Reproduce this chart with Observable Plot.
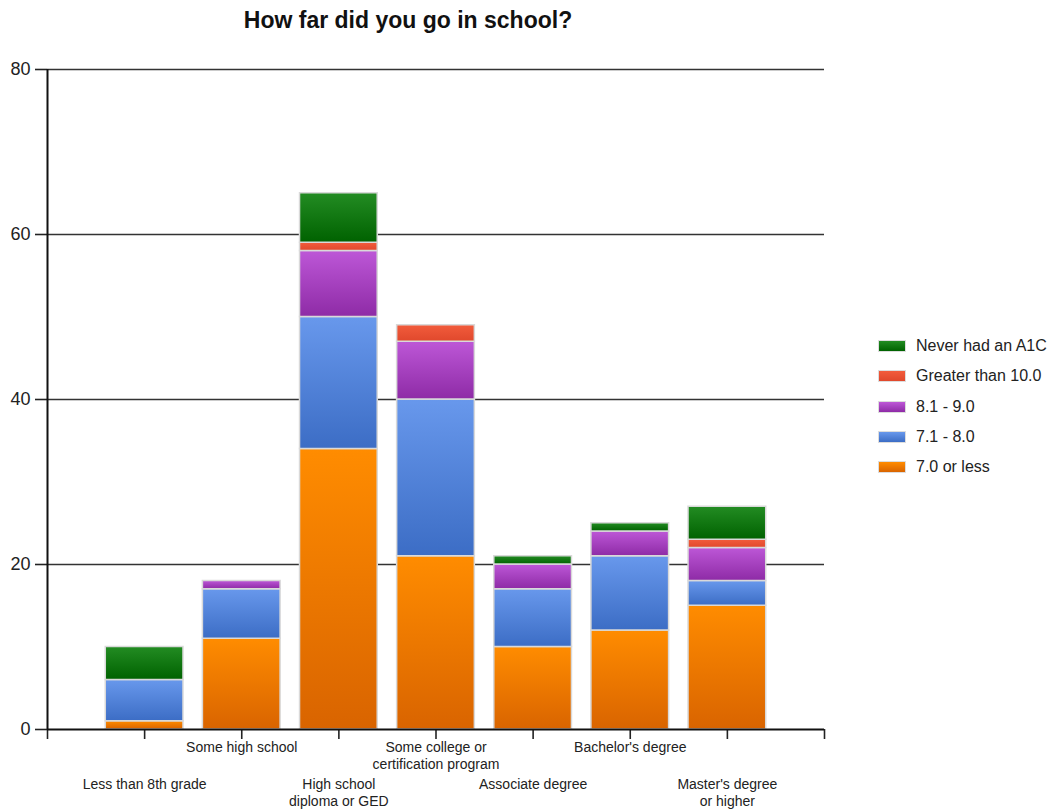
<!DOCTYPE html>
<html>
<head>
<meta charset="utf-8">
<script src="https://cdn.jsdelivr.net/npm/d3@7"></script>
<script src="https://cdn.jsdelivr.net/npm/@observablehq/plot@0.6"></script>
<style>
  html, body { margin: 0; padding: 0; background: #fff; }
  body { font-family: "Liberation Sans", Arial, sans-serif; }
  #wrap { position: relative; width: 1047px; height: 810px; }
  #title { position: absolute; left: 0; top: 7px; width: 816px; text-align: center;
           font-weight: bold; font-size: 23px; color: #111; }
  #chart { position: absolute; left: 0; top: 0; }
  #legend { position: absolute; left: 878px; top: 331px; font-size: 16px; color: #222; }
  .item { display: flex; align-items: center; height: 30.25px; }
  .sw { width: 28px; height: 12px; margin-right: 10px; box-sizing: border-box; border: 1px solid #ddd; }
</style>
</head>
<body>
<div id="wrap">
  <div id="chart"></div>
  <div id="title">How far did you go in school?</div>
  <div id="legend"></div>
</div>
<script>
const categories = ["Less than 8th grade", "Some high school", "High school\ndiploma or GED",
  "Some college or\ncertification program", "Associate degree", "Bachelor's degree",
  "Master's degree\nor higher"];
const seriesNames = ["7.0 or less", "7.1 - 8.0", "8.1 - 9.0", "Greater than 10.0", "Never had an A1C"];
const le70   = [1, 11, 34, 21, 10, 12, 15];
const a71_80 = [5, 6, 16, 19, 7, 9, 3];
const a81_90 = [0, 1, 8, 7, 3, 3, 4];
const gt10   = [0, 0, 1, 2, 0, 0, 1];
const never  = [4, 0, 6, 0, 1, 1, 4];
const yTicks = [0, 20, 40, 60, 80];

const seriesValues = [le70, a71_80, a81_90, gt10, never];
const gradients = [
  ["#ff8c00", "#d96400"],
  ["#6898ec", "#3c6dc5"],
  ["#bd57d7", "#8e2ba6"],
  ["#f25c3c", "#e0482c"],
  ["#238c23", "#006200"]
];

// build stacked rows
const rows = [];
categories.forEach((c, i) => {
  let base = 0;
  seriesValues.forEach((vals, s) => {
    const v = vals[i];
    if (v > 0) rows.push({pos: i + 1, series: seriesNames[s], y1: base, y2: base + v});
    base += v;
  });
});
const labels = categories.map((c, i) => ({pos: i + 1, text: c, row: i % 2}));

const chart = Plot.plot({
  width: 1047,
  height: 810,
  marginLeft: 47,
  marginRight: 223,
  marginTop: 69,
  marginBottom: 81,
  style: {fontFamily: "'Liberation Sans', Arial, sans-serif", color: "#222"},
  x: {type: "linear", domain: [0, 8], axis: null, label: null},
  y: {domain: [0, 80], axis: null, label: null},
  color: {type: "ordinal", domain: seriesNames, range: seriesNames.map((_, i) => `url(#g${i})`)},
  marks: [
    Plot.ruleY(yTicks.filter(d => d > 0), {stroke: "#333", strokeWidth: 1.6}),
    Plot.rect(rows, {x1: d => d.pos - 0.4, x2: d => d.pos + 0.4, y1: "y1", y2: "y2",
      fill: "series", stroke: "#d9d9d9", strokeWidth: 1.5}),
    Plot.axisY({ticks: yTicks, tickSize: 12, tickPadding: 5, fontSize: 18, stroke: "#222", strokeWidth: 1.6, label: null}),
    Plot.axisX({ticks: d3.range(0, 9), tickSize: 10, tickFormat: () => "", stroke: "#222", strokeWidth: 1.6, label: null}),
    Plot.ruleX([0], {stroke: "#111", strokeWidth: 2}),
    Plot.ruleY([0], {stroke: "#111", strokeWidth: 2}),
    Plot.text(labels.filter(d => d.row === 1), {x: "pos", y: 0, text: "text", dy: 11,
      lineAnchor: "top", fontSize: 14, lineHeight: 1.18, fill: "#222"}),
    Plot.text(labels.filter(d => d.row === 0), {x: "pos", y: 0, text: "text", dy: 48,
      lineAnchor: "top", fontSize: 14, lineHeight: 1.18, fill: "#222"})
  ]
});

// gradient definitions
const ns = "http://www.w3.org/2000/svg";
const defs = document.createElementNS(ns, "defs");
gradients.forEach(([top, bottom], i) => {
  const g = document.createElementNS(ns, "linearGradient");
  g.setAttribute("id", `g${i}`);
  g.setAttribute("x1", "0"); g.setAttribute("y1", "0");
  g.setAttribute("x2", "0"); g.setAttribute("y2", "1");
  [[0, top], [1, bottom]].forEach(([o, c]) => {
    const st = document.createElementNS(ns, "stop");
    st.setAttribute("offset", o);
    st.setAttribute("stop-color", c);
    g.appendChild(st);
  });
  defs.appendChild(g);
});
chart.insertBefore(defs, chart.firstChild);
document.getElementById("chart").appendChild(chart);

// legend
const legend = document.getElementById("legend");
for (let i = seriesNames.length - 1; i >= 0; i--) {
  const item = document.createElement("div");
  item.className = "item";
  const sw = document.createElement("div");
  sw.className = "sw";
  sw.style.background = `linear-gradient(${gradients[i][0]}, ${gradients[i][1]})`;
  const t = document.createElement("span");
  t.textContent = seriesNames[i];
  item.appendChild(sw); item.appendChild(t);
  legend.appendChild(item);
}
</script>
</body>
</html>
